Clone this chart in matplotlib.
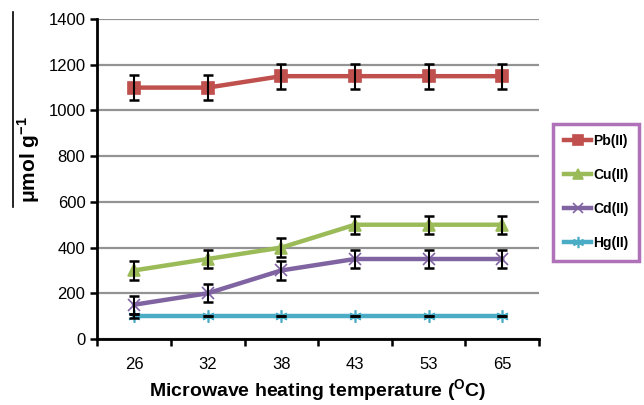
import matplotlib
matplotlib.use("Agg")
import matplotlib.pyplot as plt
from matplotlib.lines import Line2D
import numpy as np

plt.rcParams['font.family'] = ['Liberation Sans', 'DejaVu Sans']

temps = ["26", "32", "38", "43", "53", "65"]
pb = [1100, 1100, 1150, 1150, 1150, 1150]
cu = [300, 350, 400, 500, 500, 500]
cd = [150, 200, 300, 350, 350, 350]
hg = [100, 100, 100, 100, 100, 100]
pb_err = [55, 55, 55, 55, 55, 55]
cu_err = [40, 40, 40, 40, 40, 40]
cd_err = [40, 40, 40, 40, 40, 40]
hg_err = [8, 0, 0, 0, 0, 0]

fig = plt.figure(figsize=(6.44, 4.05), dpi=100)
ax = fig.add_axes([0.151, 0.163, 0.686, 0.790])
x = np.arange(len(temps))

ax.set_axisbelow(True)
ax.grid(axis='y', color='#939393', linewidth=1.6)

series = [
    (pb, pb_err, '#c0504d', 's', 'Pb(II)', 8),
    (cu, cu_err, '#9bbb59', '^', 'Cu(II)', 8),
    (cd, cd_err, '#8064a2', 'x', 'Cd(II)', 8),
    (hg, hg_err, '#4bacc6', (6, 2, 0), 'Hg(II)', 9),
]
handles = []
for vals, err, col, mk, lab, ms in series:
    ax.errorbar(x, vals, yerr=err, fmt='none', ecolor='black', elinewidth=1.5,
                capsize=3.5, capthick=1.8, zorder=3)
    ln, = ax.plot(x, vals, color=col, linewidth=3.2, marker=mk, markersize=ms,
                  markeredgecolor=col, markerfacecolor=col, markeredgewidth=1.2,
                  label=lab, zorder=2)
    handles.append(ln)

ax.set_xlim(-0.5, 5.5)
ax.set_ylim(0, 1400)
ax.set_yticks(np.arange(0, 1401, 200))
ax.set_xticks(x)
ax.set_xticklabels(temps, fontsize=12)
ax.tick_params(axis='x', length=0, pad=13)
ax.set_xticks(np.arange(-0.5, 5.6, 1.0), minor=True)
ax.tick_params(axis='x', which='minor', length=5, width=1.8, direction='out')
ax.tick_params(axis='y', length=5, width=1.8, labelsize=12, direction='out')
for s in ['top', 'right']:
    ax.spines[s].set_visible(False)
for s in ['left', 'bottom']:
    ax.spines[s].set_linewidth(2)

ax.set_xlabel('Microwave heating temperature ($^{\\mathregular{O}}$C)', fontsize=14,
              fontweight='bold', labelpad=4)
fig.text(0.045, 0.605, 'μmol g$^{\\mathregular{-1}}$', rotation=90, fontsize=15,
         fontweight='bold', ha='center', va='center')
fig.add_artist(Line2D([0.02, 0.02], [0.49, 0.97], color='black', linewidth=1.2))

leg = fig.legend(handles=handles, loc='upper left', bbox_to_anchor=(0.859, 0.695),
                 frameon=True, handlelength=2.0, handletextpad=0.15,
                 labelspacing=1.45, borderpad=0.75, borderaxespad=0.0,
                 fancybox=False, markerscale=0.9,
                 prop={'weight': 'bold', 'size': 10})
leg.get_frame().set_edgecolor('#9b4fa8')
leg.get_frame().set_linewidth(2.5)

fig.savefig('out.png', dpi=100)
